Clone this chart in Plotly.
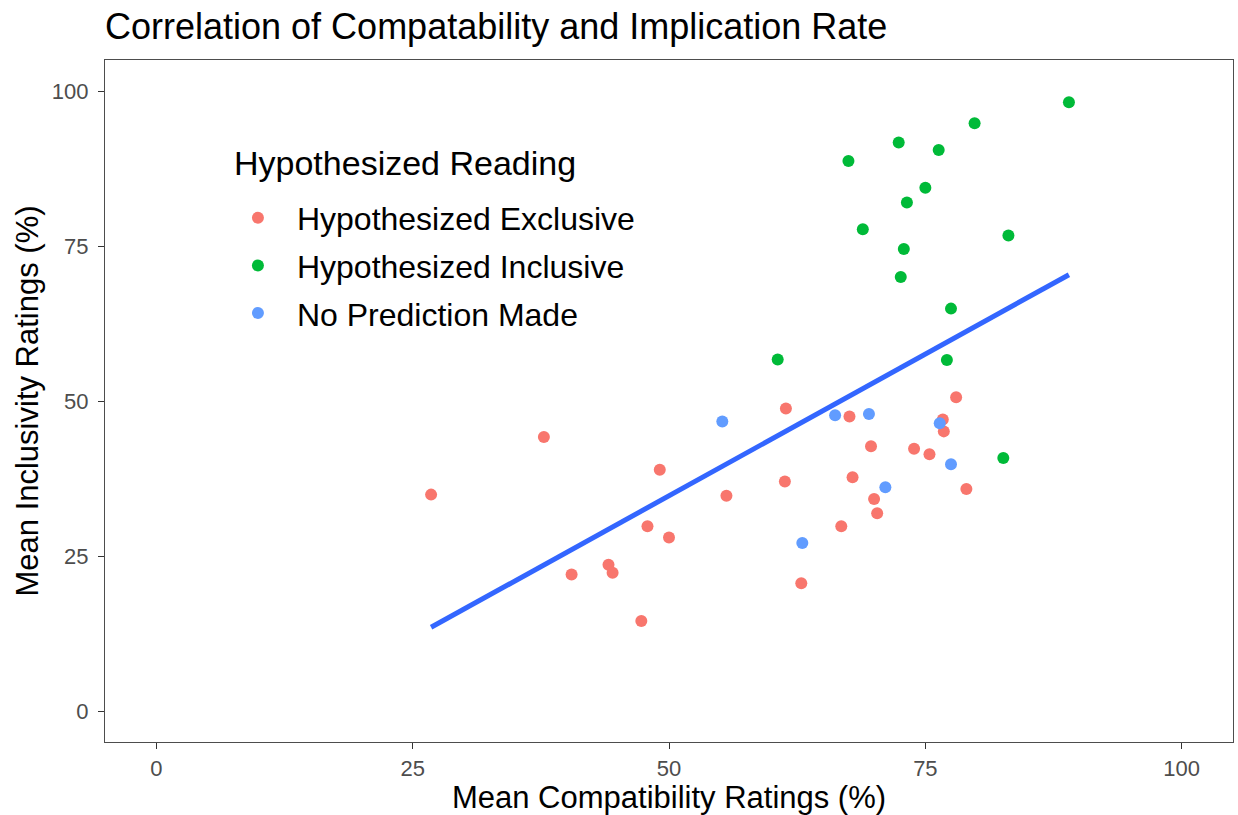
import numpy as np
import plotly.graph_objects as go

# Data
excl_x = [26.8, 37.8, 49.1, 47.9, 50.0, 40.5, 44.1, 44.5, 47.3, 61.4, 55.6, 61.3, 62.9,
          67.6, 78.0, 76.7, 76.8, 69.7, 73.9, 75.4, 67.9, 70.0, 70.3, 66.8, 79.0]
excl_y = [34.9, 44.2, 38.9, 29.8, 28.0, 22.0, 23.6, 22.3, 14.5, 48.8, 34.7, 37.0, 20.6,
          47.5, 50.6, 47.0, 45.1, 42.7, 42.3, 41.4, 37.7, 34.2, 31.9, 29.8, 35.8]
incl_x = [89.0, 79.8, 72.4, 76.3, 67.5, 75.0, 73.2, 68.9, 83.1, 72.9, 72.6, 77.5, 77.1, 60.6, 82.6]
incl_y = [98.2, 94.8, 91.7, 90.5, 88.7, 84.4, 82.0, 77.7, 76.7, 74.5, 70.0, 64.9, 56.6, 56.7, 40.8]
nopred_x = [55.2, 66.2, 69.5, 76.4, 77.5, 71.1, 63.0]
nopred_y = [46.7, 47.7, 47.9, 46.4, 39.8, 36.1, 27.1]

group_names = ["Hypothesized Exclusive", "Hypothesized Inclusive", "No Prediction Made"]
group_colors = ["#F8766D", "#00BA38", "#619CFF"]
legend_title = "Hypothesized Reading"
ticks = [0, 25, 50, 75, 100]

FONT = "Liberation Sans, Arial, Helvetica, sans-serif"

fig = go.Figure()
for name, color, xs, ys in zip(group_names, group_colors,
                               [excl_x, incl_x, nopred_x], [excl_y, incl_y, nopred_y]):
    fig.add_trace(go.Scatter(x=xs, y=ys, mode="markers", name=name, legendgroup=name,
                             marker=dict(color=color, size=12, line=dict(width=0))))

# Linear fit over all points (geom_smooth method = lm)
all_x = np.array(excl_x + incl_x + nopred_x)
all_y = np.array(excl_y + incl_y + nopred_y)
slope, intercept = np.polyfit(all_x, all_y, 1)
fx = np.array([all_x.min(), all_x.max()])
fig.add_trace(go.Scatter(x=fx, y=slope * fx + intercept, mode="lines",
                         line=dict(color="#3366FF", width=5), showlegend=False,
                         hoverinfo="skip"))

axis_common = dict(showgrid=False, zeroline=False, showline=True, mirror=True,
                   linecolor="#4D4D4D", linewidth=1.2, ticks="outside", ticklen=6,
                   tickwidth=1.2, tickcolor="#333333", tickvals=ticks,
                   tickfont=dict(family=FONT, size=22, color="#4D4D4D"))

fig.update_layout(
    width=1238, height=815,
    paper_bgcolor="white", plot_bgcolor="white",
    margin=dict(l=105, r=5, t=60, b=73),
    title=dict(text="Correlation of Compatability and Implication Rate",
               font=dict(family=FONT, size=36, color="black"),
               x=0, xref="paper", xanchor="left", y=0.967, yanchor="middle"),
    xaxis=dict(range=[-5, 105],
               title=dict(text="Mean Compatibility Ratings (%)",
                          font=dict(family=FONT, size=31, color="black"), standoff=4),
               **axis_common),
    yaxis=dict(range=[-5, 105], ticklabelstandoff=5,
               title=dict(text="Mean Inclusivity Ratings (%)",
                          font=dict(family=FONT, size=31, color="black"), standoff=3),
               **axis_common),
    legend=dict(x=0.101, y=0.8086, xanchor="left", yanchor="top",
                bgcolor="rgba(0,0,0,0)",
                font=dict(family=FONT, size=32, color="black"),
                tracegroupgap=3, itemsizing="constant", itemwidth=68),
    annotations=[dict(text=legend_title, xref="paper", yref="paper",
                      x=0.1125, y=0.849, xanchor="left", yanchor="middle",
                      showarrow=False, font=dict(family=FONT, size=34, color="black"))],
    showlegend=True,
)

fig.write_html("out.html")
